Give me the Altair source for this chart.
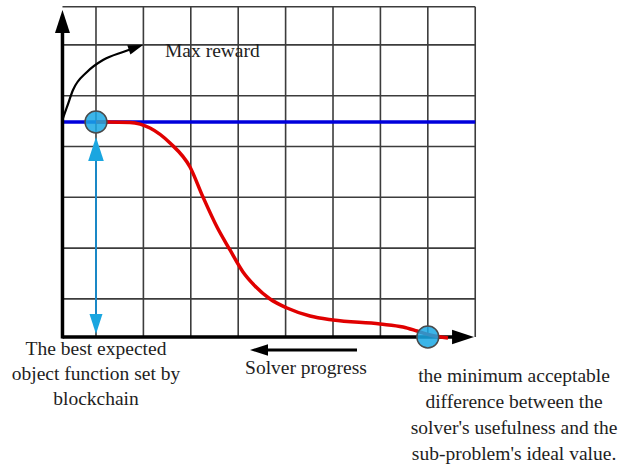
import altair as alt
import pandas as pd

# ---- chart units: 1 x-unit = one grid column, 1 y-unit = one grid row ----
x_domain = [-1.025, 12.033]
y_domain = [-2.539, 6.634]

grid_cols = [1, 2, 3, 4, 5, 6, 7, 8, 9]
grid_rows = [0.75, 1.75, 2.75, 3.75, 4.75, 5.75, 6.5]
axis_x = 0.293
grid_right = 9.0
grid_top = 6.5

max_reward_level = 4.232

# red "solver usefulness" curve
curve_u = [1.0, 1.253, 1.717, 2.139, 2.561, 2.983, 3.257, 3.553, 3.827, 4.101,
           4.354, 4.671, 5.030, 5.515, 6.000, 6.992, 7.477, 7.772, 8.046, 8.426]
curve_v = [4.232, 4.232, 4.222, 4.114, 3.819, 3.346, 2.756, 2.165, 1.713, 1.280,
           1.004, 0.748, 0.571, 0.413, 0.335, 0.256, 0.197, 0.118, 0.039, -0.02]

# curved "Max reward" arrow
arc_u = [0.304, 0.388, 0.515, 0.810, 1.148, 1.570, 1.886]
arc_v = [4.311, 4.528, 4.862, 5.217, 5.453, 5.610, 5.709]

# key points (blue circles)
pt_u = [1.0, 8.0]
pt_v = [4.232, 0.0]

# arrowheads: tip position, direction (deg, clockwise from right), size, colour
head_u = [0.293, 8.975, 1.0, 1.0, 4.249, 1.992]
head_v = [6.437, 0.0, 3.937, 0.059, -0.256, 5.748]
head_angle = [270, 0, 270, 90, 180, 341]
head_size = [529, 484, 576, 400, 324, 225]
head_color = ["#000000", "#000000", "#1aa6e0", "#1aa6e0", "#000000", "#000000"]

# labels
max_reward_label = "Max reward"
solver_label = "Solver progress"
left_lines = ["The best expected", "object function set by", "blockchain"]
right_lines = ["the minimum acceptable", "difference between the",
               "solver's usefulness and the", "sub-problem's ideal value."]

FONT = "'Liberation Serif', 'Times New Roman', 'DejaVu Serif', serif"
xs = alt.Scale(domain=x_domain, zero=False, nice=False)
ys = alt.Scale(domain=y_domain, zero=False, nice=False)


def segs(rows, color, width):
    df = pd.DataFrame(rows, columns=["x", "y", "x2", "y2"])
    return alt.Chart(df).mark_rule(color=color, strokeWidth=width, strokeCap="butt").encode(
        x=alt.X("x:Q", scale=xs, axis=None),
        y=alt.Y("y:Q", scale=ys, axis=None),
        x2="x2:Q", y2="y2:Q")


grid_rows_seg = [[c, 0, c, grid_top] for c in grid_cols] + \
                [[axis_x, r, grid_right, r] for r in grid_rows]
grid = segs(grid_rows_seg, "#3c3c3c", 1.6)

blue = segs([[axis_x, max_reward_level, grid_right, max_reward_level]], "#0000dc", 3.5)
axes = segs([[axis_x, -0.03, axis_x, 6.1], [axis_x, 0, 8.6, 0]], "#000000", 3.5)
cyan = segs([[pt_u[0], 0.3, pt_u[0], 3.6]], "#1a88c6", 2)
solver = segs([[4.5, -0.256, 6.506, -0.256]], "#000000", 3)

curve = alt.Chart(pd.DataFrame({"u": curve_u, "v": curve_v})).mark_line(
    color="#e00000", strokeWidth=3.5, interpolate="monotone").encode(
    x=alt.X("u:Q", scale=xs, axis=None), y=alt.Y("v:Q", scale=ys, axis=None))

arc = alt.Chart(pd.DataFrame({"u": arc_u, "v": arc_v})).mark_line(
    color="#000000", strokeWidth=2.2, interpolate="monotone").encode(
    x=alt.X("u:Q", scale=xs, axis=None), y=alt.Y("v:Q", scale=ys, axis=None))

points = alt.Chart(pd.DataFrame({"u": pt_u, "v": pt_v})).mark_point(
    shape="circle", filled=True, size=480, color="#1aa8e4", fillOpacity=0.85,
    stroke="#4a4a4a", strokeWidth=1.5, opacity=1).encode(
    x=alt.X("u:Q", scale=xs, axis=None), y=alt.Y("v:Q", scale=ys, axis=None))

heads = alt.Chart(pd.DataFrame({"u": head_u, "v": head_v, "a": head_angle,
                                "s": head_size, "c": head_color})).mark_point(
    shape="M0,0 L-2,-0.65 L-2,0.65 Z", filled=True, opacity=1, strokeWidth=0).encode(
    x=alt.X("u:Q", scale=xs, axis=None), y=alt.Y("v:Q", scale=ys, axis=None),
    angle=alt.Angle("a:Q", scale=None),
    size=alt.Size("s:Q", scale=None),
    color=alt.Color("c:N", scale=None))


def label(text, u, v, align, lh=25):
    df = pd.DataFrame({"u": [u], "v": [v], "t": [text]})
    return alt.Chart(df).mark_text(
        font=FONT, fontSize=19.5, color="#1e1e1e", align=align, baseline="alphabetic",
        lineBreak="\n", lineHeight=lh).encode(
        x=alt.X("u:Q", scale=xs, axis=None), y=alt.Y("v:Q", scale=ys, axis=None),
        text="t:N")


t_max = label(max_reward_label, 2.456, 5.512, "left")
t_solver = label(solver_label, 5.43, -0.728, "center")
t_left = label("\n".join(left_lines), 1.0, -0.354, "center", 25)
t_right = label("\n".join(right_lines), 9.819, -0.886, "center", 26)

chart = alt.layer(grid, blue, axes, curve, cyan, solver, arc, points, heads,
                  t_max, t_solver, t_left, t_right).properties(
    width=619, height=466, autosize=alt.AutoSizeParams(type="none"), padding=0,
    background="white").configure_view(stroke=None)

chart.save("out.html", embed_options={"renderer": "svg", "actions": False})
